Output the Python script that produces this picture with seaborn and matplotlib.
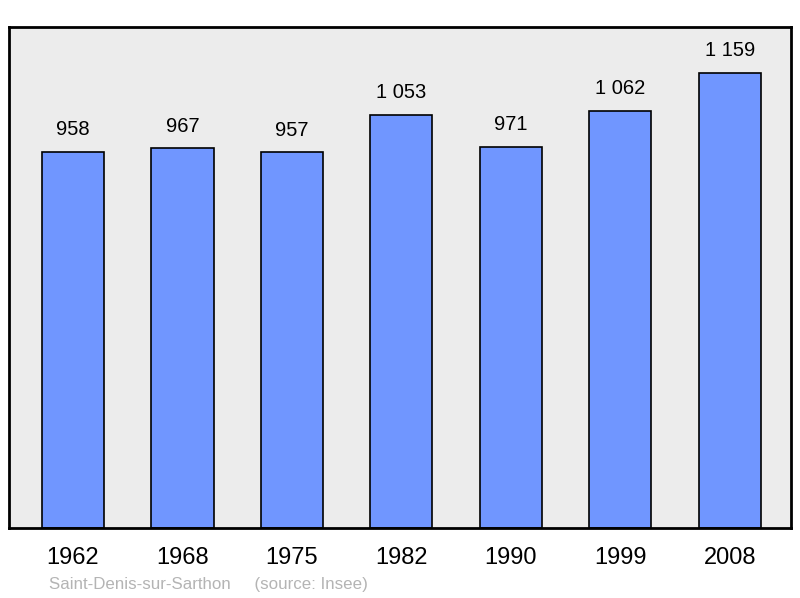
import pandas as pd
import matplotlib
matplotlib.use("Agg")
import matplotlib.pyplot as plt
import seaborn as sns

# data
years = ["1962", "1968", "1975", "1982", "1990", "1999", "2008"]
population = [958, 967, 957, 1053, 971, 1062, 1159]
value_labels = ["958", "967", "957", "1 053", "971", "1 062", "1 159"]
commune = "Saint-Denis-sur-Sarthon"
source = "(source: Insee)"

df = pd.DataFrame({"year": years, "pop": population})

sns.set_style("white")
plt.rcParams["font.family"] = ["Liberation Sans", "DejaVu Sans"]
plt.rcParams["text.color"] = "black"
plt.rcParams["xtick.color"] = "black"

fig = plt.figure(figsize=(8, 5.98), dpi=100)
ax = fig.add_axes([9 / 800, 1 - 528 / 598, 782 / 800, 501 / 598])
ax.set_facecolor("#ececec")

sns.barplot(data=df, x="year", y="pop", color="#7096ff", saturation=1,
            width=0.567, edgecolor="black", linewidth=1.2, ax=ax)

for i, (v, lab) in enumerate(zip(population, value_labels)):
    ax.text(i, v + 32, lab, ha="center", va="bottom", fontsize=14.5, color="black")

ax.set_xlim(-0.585, 6.56)
ax.set_ylim(0, 1276)
ax.set_yticks([])
ax.set_xlabel("")
ax.set_ylabel("")
ax.tick_params(axis="x", length=0, labelsize=17, pad=14, labelcolor="black")
for s in ax.spines.values():
    s.set_visible(True)
    s.set_color("black")
    s.set_linewidth(2)

fig.text(49 / 800, 1 - 584 / 598, commune + "     " + source,
         fontsize=12.2, color="#b4b4b4", ha="left", va="center")

fig.savefig("out.png", dpi=100)
